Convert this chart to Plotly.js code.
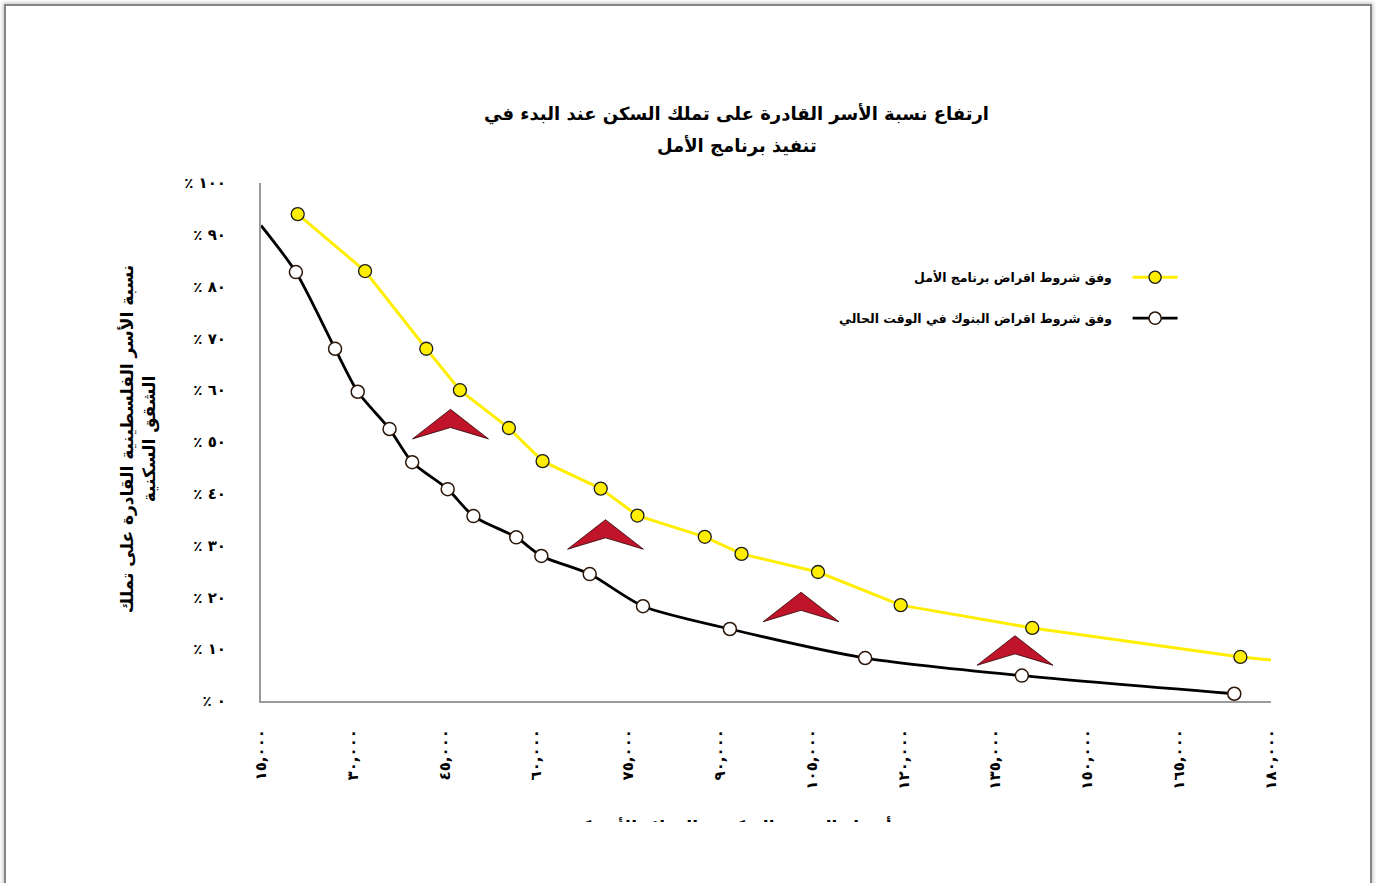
<!DOCTYPE html>
<html lang="ar">
<head>
<meta charset="utf-8">
<script src="https://cdn.plot.ly/plotly-3.0.1.min.js"></script>
<style>
  html, body { margin: 0; padding: 0; background: #fff; overflow: hidden; }
  #wrap { position: relative; width: 1376px; height: 883px; }
  #plot { position: absolute; left: 0; top: 0; width: 1376px; height: 883px; }
  #cut { position: absolute; left: 8px; top: 822px; width: 1360px; height: 61px; background: #fff; }
  #frame {
    position: absolute; left: 4px; top: 4px; width: 1364px; height: 920px;
    border: 2px solid #858585; border-bottom: none;
    box-shadow: 0 0 4px 1px rgba(0,0,0,0.25);
    pointer-events: none;
  }
</style>
</head>
<body>
<div id="wrap">
  <div id="plot"></div>
  <div id="cut"></div>
  <div id="frame"></div>
</div>
<script>
// --- datos ---
const xAmal = [21000, 32000, 42000, 47500, 55500, 61000, 70500, 76500, 87500, 93500, 106000, 119500, 141000, 175000, 180000];
const yAmal = [94, 83, 68, 60, 52.7, 46.3, 41, 35.8, 31.7, 28.4, 24.9, 18.5, 14.1, 8.5, 7.9];

const xBanks = [15000, 20700, 27100, 30800, 36000, 39700, 45500, 49700, 56700, 60800, 68700, 77400, 91600, 113700, 139300, 174000];
const yBanks = [91.8, 82.8, 68, 59.7, 52.5, 46.1, 40.9, 35.7, 31.6, 28, 24.5, 18.3, 13.9, 8.3, 4.9, 1.4];

const nameAmal = 'وفق شروط اقراض برنامج الأمل';
const nameBanks = 'وفق شروط اقراض البنوك في الوقت الحالي';

const xTicks = [15000, 30000, 45000, 60000, 75000, 90000, 105000, 120000, 135000, 150000, 165000, 180000];
const yTicks = [0, 10, 20, 30, 40, 50, 60, 70, 80, 90, 100];

// flechas rojas decorativas (punta)
const arrowX = [45956, 71282, 103221, 138182];
const arrowY = [56.3, 35.0, 21.0, 12.6];

const titleLines = ['ارتفاع نسبة الأسر القادرة على تملك السكن عند البدء في', 'تنفيذ برنامج الأمل'];
const yTitleText = 'نسبة الأسر الفلسطينية القادرة على تملك<br>الشقق السكنية';
const xTitleText = 'أسعار الشقق السكنية بالدولار الأمريكي';

const FONT = '"DejaVu Sans", "Noto Sans", sans-serif';

function toArabicDigits(s) {
    return String(s).replace(/[0-9]/g, d => '٠١٢٣٤٥٦٧٨٩'[d]);
}

const xTickText = xTicks.map(v => toArabicDigits(v.toLocaleString('en-US')));
const yTickText = yTicks.map(v => '٪ ' + toArabicDigits(v));

// sin marcador en el tramo extrapolado
const sizeAmal = xAmal.map((_, i) => i === xAmal.length - 1 ? 0 : 13);
const sizeBanks = xBanks.map((_, i) => i === 0 ? 0 : 13);

const traceAmal = {
    x: xAmal, y: yAmal, type: 'scatter', mode: 'lines+markers',
    name: ' ', legend: 'legend',
    line: { color: '#ffee00', width: 3 },
    marker: { size: sizeAmal, color: '#ffee00', opacity: 1, line: { color: '#1a1a1a', width: 1.3 } },
    cliponaxis: false, hoverinfo: 'x+y'
};
const traceBanks = {
    x: xBanks, y: yBanks, type: 'scatter', mode: 'lines+markers',
    name: ' ', legend: 'legend2',
    line: { color: '#000000', width: 2.8, shape: 'spline', smoothing: 0.7 },
    marker: { size: sizeBanks, color: '#ffffff', opacity: 1, line: { color: '#2b1608', width: 1.5 } },
    cliponaxis: false, hoverinfo: 'x+y'
};

const HW = 6200, H = 5.7, NOTCH = 3.5;
const arrows = arrowX.map((x, i) => {
    const y = arrowY[i];
    return {
        type: 'path', xref: 'x', yref: 'y', layer: 'above',
        path: `M ${x - HW},${y - H} L ${x},${y} L ${x + HW},${y - H} L ${x},${y - NOTCH} Z`,
        fillcolor: '#c0142a', line: { color: '#2a0000', width: 0.8 }
    };
});

const bold = (size) => ({ family: FONT, size: size, color: '#000', weight: 'bold' });

const layout = {
    width: 1376, height: 883,
    margin: { l: 261, r: 105, t: 183, b: 182 },
    paper_bgcolor: '#ffffff', plot_bgcolor: '#ffffff',
    font: { family: FONT, color: '#000', size: 13 },
    showlegend: true,
    xaxis: {
        range: [15000, 180000], showgrid: false, zeroline: false,
        showline: true, linecolor: '#9a9a9a', linewidth: 2,
        tickvals: xTicks, ticktext: xTickText, tickangle: -90,
        ticks: '', ticklabelstandoff: 20,
        tickfont: bold(15)
    },
    yaxis: {
        range: [0, 100], showgrid: false, zeroline: false,
        showline: true, linecolor: '#9a9a9a', linewidth: 2,
        tickvals: yTicks, ticktext: yTickText,
        ticks: '', ticklabelstandoff: 30,
        tickfont: bold(15)
    },
    yaxis2: {
        overlaying: 'y', range: [0, 100], side: 'left',
        tickvals: yTicks.slice(1, -1), showticklabels: false, ticks: '',
        showgrid: true, gridcolor: '#9e9e9e', griddash: 'dot', gridwidth: 1,
        zeroline: false, showline: false
    },
    legend: {
        x: 0.858, y: 0.818, xanchor: 'left', yanchor: 'middle',
        bgcolor: 'rgba(0,0,0,0)', itemwidth: 45, font: { size: 12 }
    },
    legend2: {
        x: 0.858, y: 0.739, xanchor: 'left', yanchor: 'middle',
        bgcolor: 'rgba(0,0,0,0)', itemwidth: 45, font: { size: 12 }
    },
    shapes: arrows,
    annotations: [
        { text: titleLines[0], xref: 'paper', yref: 'paper', x: 0.471, y: 1.134,
          xanchor: 'center', yanchor: 'middle', showarrow: false, font: bold(18) },
        { text: titleLines[1], xref: 'paper', yref: 'paper', x: 0.471, y: 1.072,
          xanchor: 'center', yanchor: 'middle', showarrow: false, font: bold(18) },
        { text: yTitleText, xref: 'paper', yref: 'paper', x: -0.121, y: 0.505,
          xanchor: 'center', yanchor: 'middle', showarrow: false, textangle: -90,
          font: bold(17) },
        { text: xTitleText, xref: 'paper', yref: 'paper', x: 0.462, y: -0.218,
          xanchor: 'center', yanchor: 'top', showarrow: false, font: bold(17) },
        { text: nameAmal, xref: 'paper', yref: 'paper', x: 0.8445, y: 0.818,
          xanchor: 'right', yanchor: 'middle', showarrow: false, font: bold(12.5) },
        { text: nameBanks, xref: 'paper', yref: 'paper', x: 0.8445, y: 0.739,
          xanchor: 'right', yanchor: 'middle', showarrow: false, font: bold(12.5) }
    ]
};

Plotly.newPlot('plot', [traceAmal, traceBanks], layout, { displayModeBar: false, staticPlot: true });
</script>
</body>
</html>
